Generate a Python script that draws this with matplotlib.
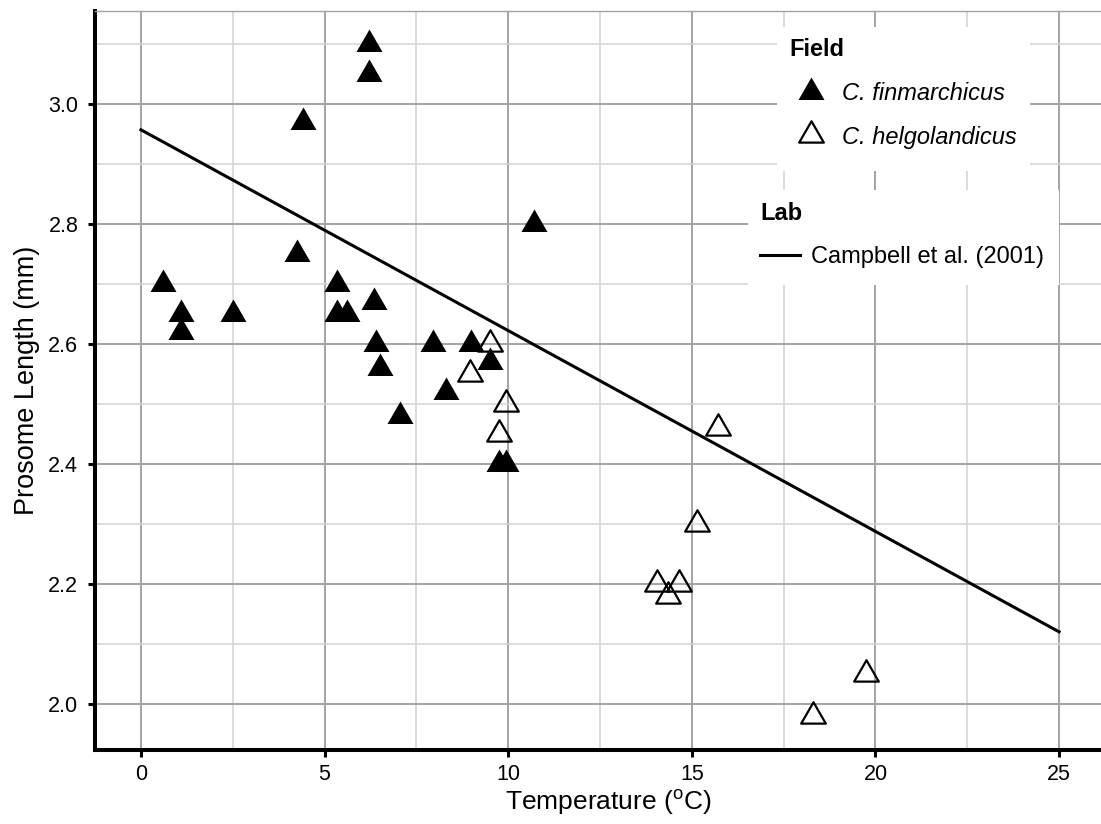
import numpy as np
import matplotlib
matplotlib.use("Agg")
import matplotlib.pyplot as plt
from matplotlib.path import Path
from matplotlib.lines import Line2D
from matplotlib.patches import Rectangle
from matplotlib.ticker import MultipleLocator, FormatStrFormatter

plt.rcParams['font.family'] = ['Liberation Sans', 'DejaVu Sans']
plt.rcParams['mathtext.default'] = 'regular'

# Field observations, C. finmarchicus (filled triangles)
fin_temp = [0.6, 1.1, 1.1, 2.5, 4.25, 4.4, 5.35, 5.35, 5.6, 6.2, 6.2, 6.35,
            6.4, 6.5, 7.05, 7.95, 8.3, 9.0, 9.5, 9.75, 9.95, 10.7]
fin_len = [2.70, 2.65, 2.62, 2.65, 2.75, 2.97, 2.70, 2.65, 2.65, 3.10, 3.05, 2.67,
           2.60, 2.56, 2.48, 2.60, 2.52, 2.60, 2.57, 2.40, 2.40, 2.80]

# Field observations, C. helgolandicus (open triangles)
helg_temp = [8.95, 9.5, 9.75, 9.95, 14.05, 14.35, 14.65, 15.15, 15.7, 18.3, 19.75]
helg_len = [2.55, 2.60, 2.45, 2.50, 2.20, 2.18, 2.20, 2.30, 2.46, 1.98, 2.05]

# Lab relationship, Campbell et al. (2001)
lab_temp = [0, 25]
lab_len = [2.957, 2.12]

W, H = 1101, 824

# R-style triangle, centred on its centroid
tri = Path([(0, 1.555), (1.347, -0.778), (-1.347, -0.778), (0, 1.555)], closed=True)

fig = plt.figure(figsize=(W / 100, H / 100), dpi=100)
ax = fig.add_axes([95 / W, 1 - 750 / H, 1010 / W, 739 / H])

ax.plot(lab_temp, lab_len, color='black', lw=2.2, zorder=3)
ax.plot(helg_temp, helg_len, ls='none', marker=tri, ms=20.5, mfc='none',
        mec='black', mew=1.6, zorder=4)
ax.plot(fin_temp, fin_len, ls='none', marker=tri, ms=21.6, mfc='black',
        mec='none', mew=0, zorder=5)

ax.set_xlim(-1.25, 26.25)
ax.set_ylim(1.923, 3.155)
ax.xaxis.set_major_locator(MultipleLocator(5))
ax.xaxis.set_minor_locator(MultipleLocator(2.5))
ax.yaxis.set_major_locator(MultipleLocator(0.2))
ax.yaxis.set_minor_locator(MultipleLocator(0.1))
ax.yaxis.set_major_formatter(FormatStrFormatter('%.1f'))

ax.grid(which='major', color='#a3a3a3', lw=1.4)
ax.grid(which='minor', color='#d6d6d6', lw=1.2)
ax.set_axisbelow(True)

for s in ['left', 'bottom']:
    ax.spines[s].set_linewidth(2.9)
ax.spines['right'].set_visible(False)
ax.spines['top'].set_color('#a3a3a3')
ax.spines['top'].set_linewidth(1.0)

ax.tick_params(which='major', direction='out', length=5, width=2.2,
               labelsize=15.5, colors='black')
ax.tick_params(axis='x', which='major', pad=5)
ax.tick_params(axis='y', which='major', pad=7)
ax.tick_params(which='minor', length=0)

ax.set_xlabel(r'Temperature ($^{o}$C)', fontsize=19, labelpad=3)
ax.xaxis.set_label_coords(0.508, -0.052)
ax.set_ylabel('Prosome Length (mm)', fontsize=19.5, labelpad=6)

# white legend backgrounds over the grid
fig.add_artist(Rectangle((777 / W, 1 - 171 / H), 253 / W, 144 / H,
                         transform=fig.transFigure, facecolor='white',
                         edgecolor='none', zorder=1))
fig.add_artist(Rectangle((748 / W, 1 - 285 / H), 311 / W, 95 / H,
                         transform=fig.transFigure, facecolor='white',
                         edgecolor='none', zorder=1))

# Field legend
h_fin = Line2D([], [], ls='none', marker=tri, ms=21.6, mfc='black', mec='none')
h_helg = Line2D([], [], ls='none', marker=tri, ms=20.5, mfc='none', mec='black', mew=1.6)
leg1 = fig.legend([h_fin, h_helg], ['C. finmarchicus', 'C. helgolandicus'],
                  title='Field', loc='upper left', bbox_to_anchor=(789 / W, 1 - 38 / H),
                  prop={'size': 17, 'style': 'italic'},
                  title_fontproperties={'size': 17, 'weight': 'bold'},
                  frameon=False, borderpad=0, labelspacing=0.88, handlelength=1.86,
                  handletextpad=0.38, borderaxespad=0, alignment='left')
leg1.set_zorder(2)

# Lab legend
h_lab = Line2D([], [], color='black', lw=2.2)
leg2 = fig.legend([h_lab], ['Campbell et al. (2001)'], title='Lab', loc='upper left',
                  bbox_to_anchor=(760 / W, 1 - 202 / H),
                  prop={'size': 17}, title_fontproperties={'size': 17, 'weight': 'bold'},
                  frameon=False, borderpad=0, labelspacing=0.9, handlelength=1.7,
                  handletextpad=0.47, borderaxespad=0, alignment='left')
leg2.set_zorder(2)

fig.savefig('out.png', dpi=100)
